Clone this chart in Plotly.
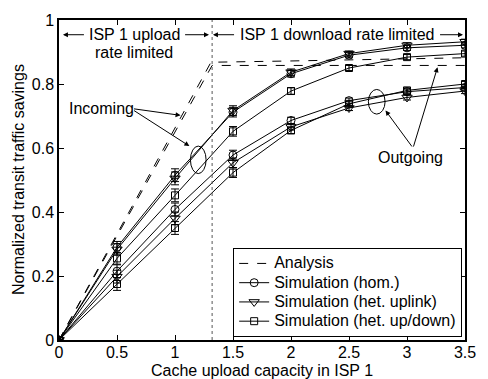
import plotly.graph_objects as go

# ---------------- data ----------------
x_cap = [0, 0.5, 1, 1.5, 2, 2.5, 3, 3.5]

in_hom = [0, 0.290, 0.515, 0.712, 0.832, 0.890, 0.913, 0.921]
in_upl = [0, 0.283, 0.505, 0.717, 0.837, 0.895, 0.921, 0.932]
in_ud = [0, 0.255, 0.452, 0.652, 0.778, 0.850, 0.884, 0.895]
out_hom = [0, 0.215, 0.408, 0.578, 0.686, 0.748, 0.776, 0.789]
out_upl = [0, 0.198, 0.380, 0.554, 0.666, 0.725, 0.758, 0.778]
out_ud = [0, 0.175, 0.350, 0.523, 0.655, 0.738, 0.780, 0.800]

err_in = [0, 0.018, 0.02, 0.015, 0.01, 0.008, 0.008, 0.008]
err_out = [0, 0.02, 0.02, 0.015, 0.01, 0.008, 0.008, 0.008]

ana_a_x = [0, 1.31, 2, 2.5, 3, 3.5]
ana_a_y = [0, 0.868, 0.872, 0.876, 0.879, 0.882]
ana_b_x = [0, 1.32, 3.5]
ana_b_y = [0, 0.858, 0.858]

boundary_x = 1.32

legend_names = ["Analysis", "Simulation (hom.)", "Simulation (het. uplink)",
                "Simulation (het. up/down)"]
x_ticks = [0, 0.5, 1, 1.5, 2, 2.5, 3, 3.5]
y_ticks = [0, 0.2, 0.4, 0.6, 0.8, 1]

FONT = "Liberation Sans, Arial, sans-serif"
FS = 16


def lg(name):
    return '<span style="font-size:16px">%s</span>' % name


fig = go.Figure()

# analysis
fig.add_trace(go.Scatter(x=ana_a_x, y=ana_a_y, mode="lines", name=lg(legend_names[0]),
                         line=dict(color="black", width=1, dash="dash"),
                         legendgroup="a"))
fig.add_trace(go.Scatter(x=ana_b_x, y=ana_b_y, mode="lines", showlegend=False,
                         line=dict(color="black", width=1, dash="dash"),
                         legendgroup="a"))

series = [
    (legend_names[1], "circle-open", 8, in_hom, out_hom),
    (legend_names[2], "triangle-down-open", 9, in_upl, out_upl),
    (legend_names[3], "square-open", 7, in_ud, out_ud),
]
for name, sym, sz, yin, yout in series:
    for k, (yy, ee) in enumerate([(yin, err_in), (yout, err_out)]):
        fig.add_trace(go.Scatter(
            x=x_cap, y=yy, mode="lines+markers", name=lg(name),
            showlegend=(k == 0), legendgroup=name,
            line=dict(color="black", width=1),
            marker=dict(symbol=sym, size=sz, color="black",
                        line=dict(color="black", width=1)),
            error_y=dict(type="data", array=ee, color="black",
                         thickness=1, width=4),
        ))

# boundary dotted line
fig.add_shape(type="line", x0=boundary_x, x1=boundary_x, y0=0, y1=1,
              xref="x", yref="y", line=dict(color="#555", width=1, dash="dot"))

# ellipses
fig.add_shape(type="circle", xref="x", yref="y", x0=1.133, x1=1.268,
              y0=0.52, y1=0.606, line=dict(color="black", width=1))
fig.add_shape(type="circle", xref="x", yref="y", x0=2.667, x1=2.811,
              y0=0.706, y1=0.783, line=dict(color="black", width=1))

ann = []


def txt(x, y, t, xanchor="center"):
    ann.append(dict(x=x, y=y, xref="x", yref="y", text=t, showarrow=False,
                    xanchor=xanchor, yanchor="middle",
                    font=dict(family=FONT, size=FS, color="black")))


def arrow(x, y, ax, ay):
    ann.append(dict(x=x, y=y, ax=ax, ay=ay, xref="x", yref="y",
                    axref="x", ayref="y", text="", showarrow=True,
                    arrowhead=2, arrowsize=1, arrowwidth=1,
                    arrowcolor="black"))


txt(0.647, 0.954, "ISP 1 upload")
txt(0.647, 0.898, "rate limited")
arrow(0.034, 0.954, 0.228, 0.954)
arrow(1.293, 0.954, 1.074, 0.954)
txt(2.395, 0.954, "ISP 1 download rate limited")
arrow(1.327, 0.954, 1.522, 0.954)
arrow(3.483, 0.954, 3.272, 0.954)

txt(0.068, 0.723, "Incoming", xanchor="left")
arrow(1.048, 0.702, 0.634, 0.723)
arrow(1.124, 0.606, 0.634, 0.720)

txt(3.026, 0.569, "Outgoing")
arrow(2.815, 0.717, 3.052, 0.600)
arrow(3.263, 0.852, 3.052, 0.600)

# axis titles
ann.append(dict(x=0.5, y=0, xref="paper", yref="paper", yshift=-30,
                text="Cache upload capacity in ISP 1", showarrow=False,
                xanchor="center", yanchor="middle",
                font=dict(family=FONT, size=FS, color="black")))
ann.append(dict(x=0, y=0.5, xref="paper", yref="paper", xshift=-41,
                text="Normalized transit traffic savings", showarrow=False,
                textangle=-90, xanchor="center", yanchor="middle",
                font=dict(family=FONT, size=FS, color="black")))

axis_common = dict(showgrid=False, zeroline=False, showline=True,
                   linecolor="black", linewidth=1.5, mirror="ticks",
                   ticks="inside", ticklen=5, tickwidth=1, tickcolor="black",
                   tickfont=dict(family=FONT, size=FS, color="black"))

fig.update_layout(
    width=488, height=379,
    margin=dict(l=59, r=15, t=15, b=39),
    paper_bgcolor="white", plot_bgcolor="white",
    font=dict(family=FONT, size=FS, color="black"),
    xaxis=dict(range=[0, 3.5], tickvals=x_ticks, ticklabelstandoff=-3,
               **axis_common),
    yaxis=dict(range=[0, 1], tickvals=y_ticks, **axis_common),
    legend=dict(x=0.993, y=0.01, xanchor="right", yanchor="bottom",
                bgcolor="white", bordercolor="black", borderwidth=1,
                font=dict(family=FONT, size=12.5, color="black"),
                tracegroupgap=0, itemwidth=30),
    annotations=ann,
    showlegend=True,
)

fig.write_html("out.html")
